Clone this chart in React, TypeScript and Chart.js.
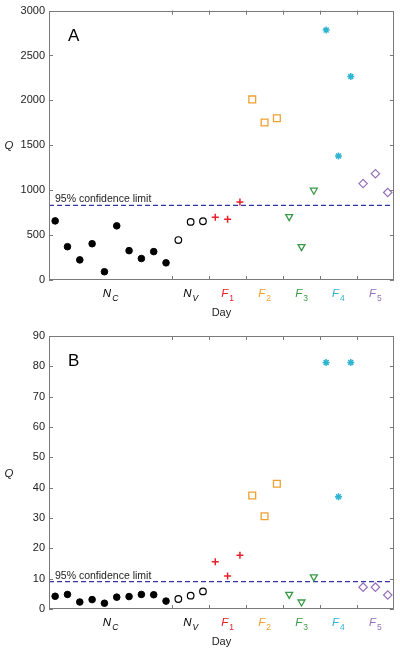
import React, { useEffect, useRef } from "react";
import { Chart, registerables } from "chart.js";
Chart.register(...registerables);

// ---- data ----
const groupNames = ["N", "N", "F", "F", "F", "F", "F"];
const groupSubs = ["C", "V", "1", "2", "3", "4", "5"];
const groupCenters = [5.5, 12, 15, 18, 21, 24, 27];
const groupColors = ["#000000", "#000000", "#e8202a", "#f0a030", "#3a9a48", "#2fb4d2", "#9670b8"];
const boundaryTicks = [10.5, 13.5, 16.5, 19.5, 22.5, 25.5];

const xNC = [1, 2, 3, 4, 5, 6, 7, 8, 9, 10];
const xNV = [11, 12, 13];
const xF1 = [14, 15, 16];
const xF2 = [17, 18, 19];
const xF3 = [20, 21, 22];
const xF4 = [23, 24, 25];
const xF5 = [26, 27, 28];

// Panel A
const aNC = [658, 371, 224, 404, 92, 603, 327, 239, 316, 191];
const aNV = [445, 647, 654];
const aF1 = [698, 676, 868];
const aF2 = [2011, 1754, 1801];
const aF3 = [705, 371, 1000];
const aF4 = [2783, 1382, 2265];
const aF5 = [1074, 1184, 974];
const aLimit = 831;
const aYTicks = [0, 500, 1000, 1500, 2000, 2500, 3000];

// Panel B
const bNC = [4.2, 4.8, 2.3, 3.1, 1.9, 3.9, 4.1, 4.8, 4.7, 2.6];
const bNV = [3.3, 4.4, 5.8];
const bF1 = [15.6, 10.9, 17.7];
const bF2 = [37.4, 30.6, 41.3];
const bF3 = [4.8, 2.3, 10.6];
const bF4 = [81.3, 37.0, 81.3];
const bF5 = [7.2, 7.2, 4.6];
const bLimit = 9.0;
const bYTicks = [0, 10, 20, 30, 40, 50, 60, 70, 80, 90];

const FONT = "'Liberation Sans', Arial, Helvetica, sans-serif";

function pts(xs: number[], ys: number[]) {
  return xs.map((x, i) => ({ x, y: ys[i] }));
}

function makeConfig(
  vals: number[][],
  limit: number,
  yMax: number,
  yTicks: number[],
  panel: string,
  pad: { top: number; xh: number }
): any {
  const [nc, nv, f1, f2, f3, f4, f5] = vals;
  const datasets: any[] = [
    { data: pts(xNC, nc), pointStyle: "circle", radius: 3.3, backgroundColor: "#000", borderColor: "#000", borderWidth: 1 },
    { data: pts(xNV, nv), pointStyle: "circle", radius: 3.3, backgroundColor: "rgba(0,0,0,0)", borderColor: "#000", borderWidth: 1.2 },
    { data: pts(xF1, f1), pointStyle: "cross", radius: 3.5, borderColor: groupColors[2], borderWidth: 1.5 },
    { data: pts(xF2, f2), pointStyle: "rect", radius: 4.8, backgroundColor: "rgba(0,0,0,0)", borderColor: groupColors[3], borderWidth: 1.3 },
    { data: pts(xF3, f3), pointStyle: "triangle", rotation: 180, radius: 4, backgroundColor: "rgba(0,0,0,0)", borderColor: groupColors[4], borderWidth: 1.3 },
    { data: pts(xF4, f4), pointStyle: "star", radius: 3.5, borderColor: groupColors[5], borderWidth: 1.5 },
    { data: pts(xF5, f5), pointStyle: "rectRot", radius: 4.2, backgroundColor: "rgba(0,0,0,0)", borderColor: groupColors[6], borderWidth: 1.2 },
    {
      type: "line",
      data: [{ x: 0.5, y: limit }, { x: 28.5, y: limit }],
      borderColor: "#3535a0",
      borderWidth: 1.3,
      borderDash: [5, 3],
      pointRadius: 0,
      fill: false,
    },
  ];

  const overlay = {
    id: "overlay" + panel,
    afterDraw(chart: any) {
      const ctx = chart.ctx;
      const a = chart.chartArea;
      const xs = chart.scales.x;
      const ys = chart.scales.y;
      ctx.save();
      // box
      ctx.strokeStyle = "#7a7a7a";
      ctx.lineWidth = 1;
      ctx.strokeRect(Math.round(a.left) + 0.5, Math.round(a.top) + 0.5, Math.round(a.right - a.left) - 1, Math.round(a.bottom - a.top) - 1);
      // ticks
      const tl = 4;
      ctx.beginPath();
      boundaryTicks.forEach((t) => {
        const px = Math.round(xs.getPixelForValue(t)) + 0.5;
        ctx.moveTo(px, a.bottom);
        ctx.lineTo(px, a.bottom - tl);
        ctx.moveTo(px, a.top);
        ctx.lineTo(px, a.top + tl);
      });
      yTicks.forEach((t) => {
        const py = Math.round(ys.getPixelForValue(t)) + 0.5;
        ctx.moveTo(a.left, py);
        ctx.lineTo(a.left + tl, py);
        ctx.moveTo(a.right, py);
        ctx.lineTo(a.right - tl, py);
      });
      ctx.stroke();

      // group labels
      const ly = a.bottom + 17;
      groupCenters.forEach((c, i) => {
        const px = xs.getPixelForValue(c);
        ctx.fillStyle = groupColors[i];
        ctx.font = `italic 11.5px ${FONT}`;
        const w1 = ctx.measureText(groupNames[i]).width;
        ctx.font = `${i < 2 ? "italic " : ""}8.5px ${FONT}`;
        const w2 = ctx.measureText(groupSubs[i]).width;
        const x0 = px - (w1 + w2 + 1) / 2;
        ctx.textBaseline = "alphabetic";
        ctx.textAlign = "left";
        ctx.font = `italic 11.5px ${FONT}`;
        ctx.fillText(groupNames[i], x0, ly);
        ctx.font = `${i < 2 ? "italic " : ""}8.5px ${FONT}`;
        ctx.fillText(groupSubs[i], x0 + w1 + 1, ly + 4);
      });
      // Day
      ctx.fillStyle = "#222";
      ctx.font = `11px ${FONT}`;
      ctx.textAlign = "center";
      ctx.fillText("Day", (a.left + a.right) / 2, a.bottom + 36);
      // Q
      ctx.font = `italic 11.5px ${FONT}`;
      ctx.fillText("Q", 9, (a.top + a.bottom) / 2 + 4);
      // panel letter
      ctx.font = `17px ${FONT}`;
      ctx.textAlign = "left";
      ctx.fillStyle = "#000";
      ctx.fillText(panel, a.left + 19, a.top + 30);
      // confidence text
      ctx.font = `10.5px ${FONT}`;
      ctx.fillStyle = "#222";
      ctx.fillText("95% confidence limit", a.left + 6, ys.getPixelForValue(limit) - 3);
      ctx.restore();
    },
  };

  return {
    type: "scatter",
    data: { datasets },
    options: {
      animation: false,
      responsive: false,
      maintainAspectRatio: false,
      layout: { padding: { top: pad.top, right: 5, left: 0, bottom: 0 } },
      plugins: { legend: { display: false }, tooltip: { enabled: false } },
      scales: {
        x: {
          type: "linear",
          min: 0.5,
          max: 28.5,
          grid: { display: false, drawTicks: false },
          border: { display: false },
          ticks: { display: false },
          afterFit(scale: any) {
            scale.height = pad.xh;
          },
        },
        y: {
          type: "linear",
          min: 0,
          max: yMax,
          grid: { display: false, drawTicks: false },
          border: { display: false },
          afterBuildTicks(scale: any) {
            scale.ticks = yTicks.map((v) => ({ value: v }));
          },
          ticks: {
            color: "#222",
            padding: 4,
            font: { family: FONT, size: 11 },
            callback: (v: any) => String(v),
          },
          afterFit(scale: any) {
            scale.width = 49;
          },
        },
      },
    },
    plugins: [overlay],
  };
}

function Panel(props: { cfg: any; top: number; height: number }) {
  const ref = useRef<HTMLCanvasElement>(null);
  useEffect(() => {
    const chart = new Chart(ref.current as HTMLCanvasElement, props.cfg);
    return () => chart.destroy();
  }, []);
  return (
    <div style={{ position: "absolute", left: 0, top: props.top, width: 400, height: props.height }}>
      <canvas ref={ref} width={400} height={props.height} style={{ width: 400, height: props.height, display: "block" }} />
    </div>
  );
}

export default function App() {
  const cfgA = makeConfig([aNC, aNV, aF1, aF2, aF3, aF4, aF5], aLimit, 3000, aYTicks, "A", { top: 9, xh: 40 });
  const cfgB = makeConfig([bNC, bNV, bF1, bF2, bF3, bF4, bF5], bLimit, 90, bYTicks, "B", { top: 16, xh: 42 });
  return (
    <div style={{ position: "absolute", left: 0, top: 0, width: 400, height: 651, background: "#fff" }}>
      <Panel cfg={cfgA} top={0} height={320} />
      <Panel cfg={cfgB} top={320} height={331} />
    </div>
  );
}
